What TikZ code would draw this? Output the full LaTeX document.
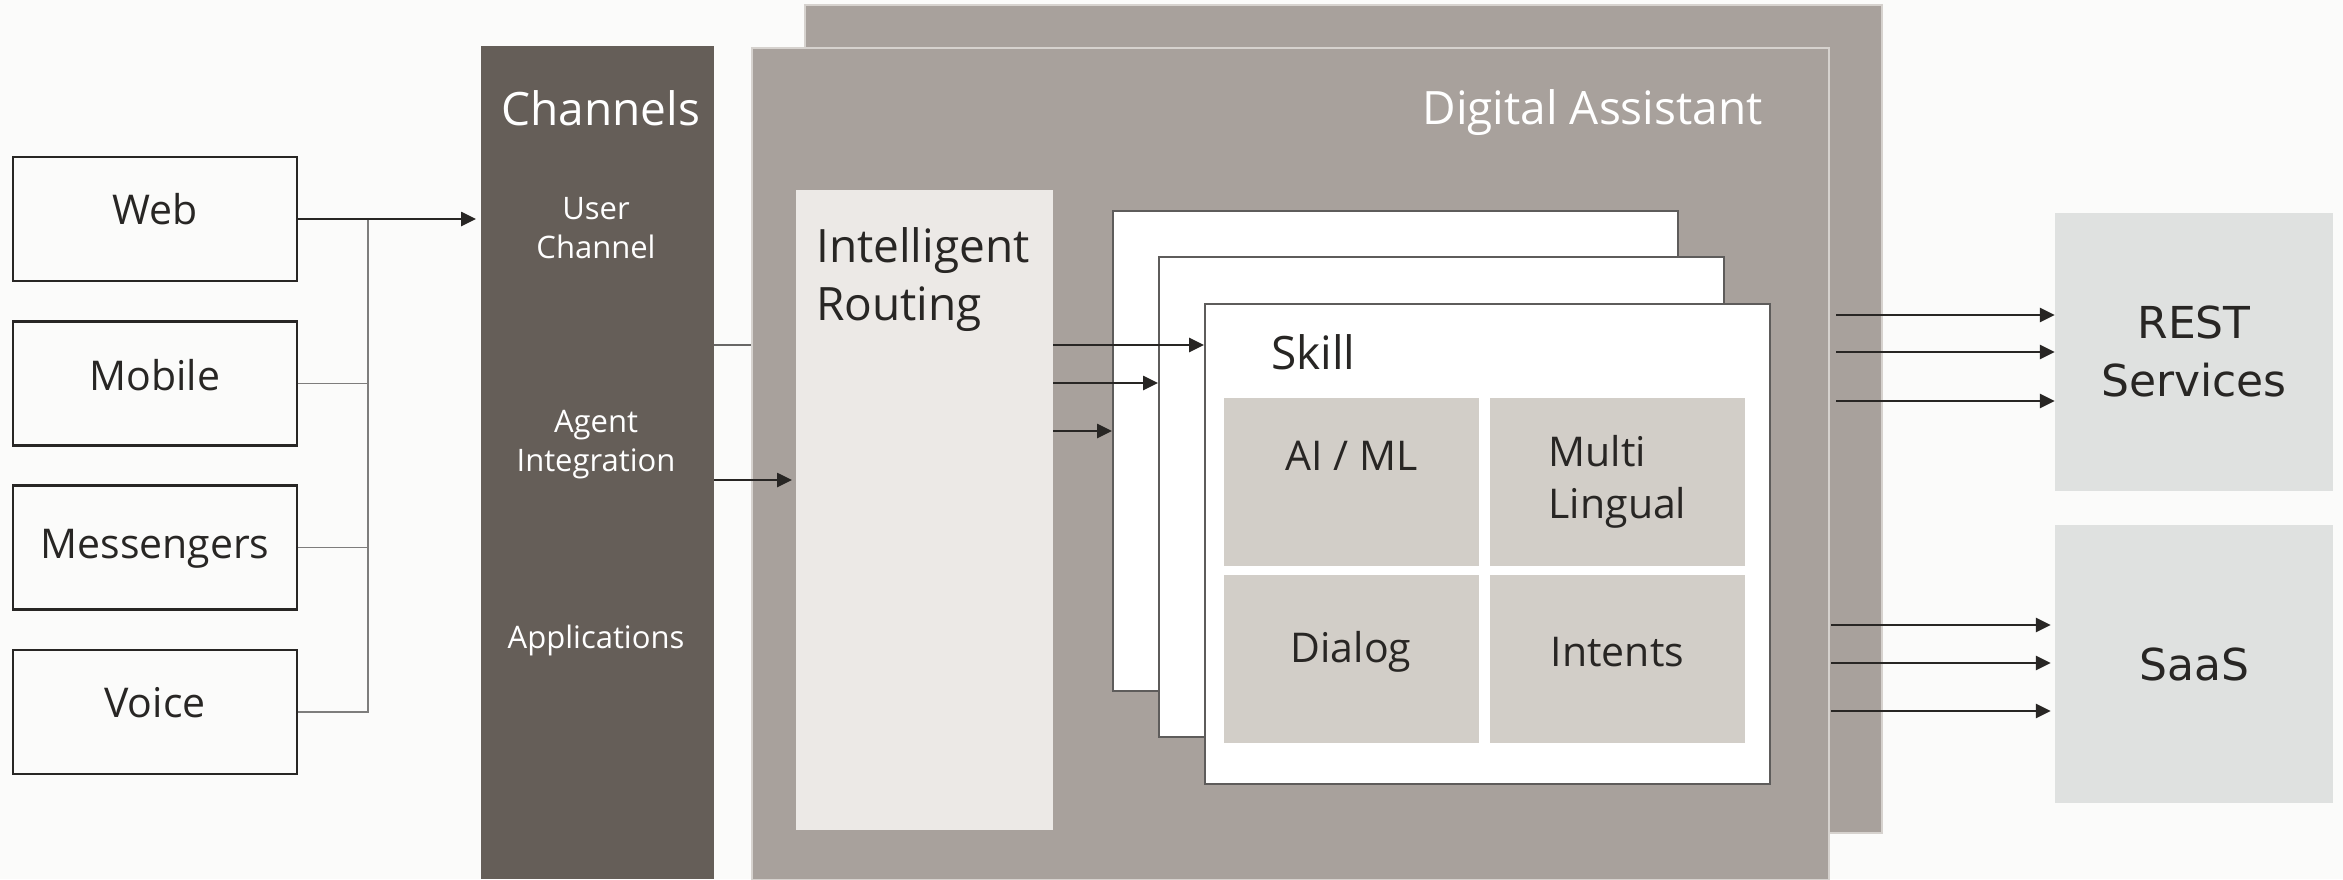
\documentclass[tikz,border=0pt]{standalone}
\usepackage{fontspec}
\setmainfont{Open Sans}
\newfontfamily\restfont{DejaVu Sans}
\usetikzlibrary{arrows.meta,positioning}
\definecolor{oabg}{RGB}{251,251,250}
\definecolor{oadark}{RGB}{101,94,88}
\definecolor{oagray}{RGB}{168,161,156}
\definecolor{oaedge}{RGB}{214,210,206}
\definecolor{oalight}{RGB}{236,233,230}
\definecolor{oatile}{RGB}{210,206,200}
\definecolor{oacloud}{RGB}{223,225,224}
\definecolor{oaink}{RGB}{40,38,36}

\begin{document}
\begin{tikzpicture}[
    x=1pt, y=-1pt,
    node distance=37.5pt,
    every node/.style={text=oaink, inner sep=0pt},
    src/.style={draw=oaink, line width=2.8pt, fill=oabg, minimum width=284pt, minimum height=124pt, text height=31pt, text depth=20pt, font=\fontsize{41}{48}\selectfont},
    panel/.style={draw=oaedge, line width=1.5pt, fill=oagray, anchor=north west},
    card/.style={draw=oaink!75, line width=1.5pt, fill=white, minimum width=565pt, minimum height=480pt, anchor=north west},
    tile/.style={fill=oatile, minimum width=255pt, minimum height=168pt, align=center, font=\fontsize{41}{52}\selectfont},
    cloud/.style={fill=oacloud, minimum width=278pt, minimum height=278pt, align=center, font=\restfont\fontsize{44}{58}\selectfont},
    chan/.style={text=white, align=center, font=\fontsize{31}{39}\selectfont},
    title/.style={text=white, font=\fontsize{46}{52}\selectfont},
    arrow/.style={-{Triangle[length=15pt,width=14pt]}, line width=2.6pt, draw=oaink},
    bus/.style={line width=1.5pt, draw=oaink!60}
  ]
    \fill[oabg] (0,0) rectangle (2343,879);
    \useasboundingbox (0,0) rectangle (2343,879);

    % sources
    \node[src] (web) at (155,219) {Web};
    \node[src, text depth=16pt, below=of web] (mobile) {Mobile};
    \node[src, text depth=10pt, below=of mobile] (messengers) {Messengers};
    \node[src, below=of messengers] (voice) {Voice};

    % channels column
    \node[fill=oadark, minimum width=233pt, minimum height=833pt, anchor=north west] (channels) at (481,46) {};
    \node[title] (chantitle) at (601,108) {Channels};
    \node[chan] (userch) at (596,228) {User\\Channel};
    \node[chan] (agent) at (596,445) {Agent\\Integration};
    \node[chan] (apps) at (596,640) {Applications};

    % digital assistant
    \node[panel, minimum width=1077pt, minimum height=828pt] (daback) at (804,4) {};
    \node[panel, minimum width=1077pt, minimum height=832pt] (dafront) at (751,47) {};
    \node[title, anchor=east] (datitle) at (1763,113) {Digital Assistant};

    \node[fill=oalight, minimum width=257pt, minimum height=640pt, anchor=north west] (routing) at (796,190) {};
    \node[anchor=north west, align=left, font=\fontsize{46}{58}\selectfont] (routingtxt) at (816,227) {Intelligent\\Routing};

    % skills
    \node[card] (card1) at (1112,210) {};
    \node[card] (card2) at (1158,256) {};
    \node[card] (card3) at (1204,303) {};
    \node[anchor=west, font=\fontsize{46}{52}\selectfont] (skill) at (1271,352) {Skill};
    \node[tile] (aiml) at (1351.5,482) {AI / ML\\\mbox{}};
    \node[tile, align=left] (multi) at (1617.5,482) {Multi\\Lingual};
    \node[tile, text depth=24pt] (dialog) at (1351,659) {Dialog};
    \node[tile, text depth=14pt] (intents) at (1617.5,659) {Intents};

    % backends
    \node[cloud] (rest) at (2194,351.5) {REST\\Services};
    \node[cloud] (saas) at (2194,664) {SaaS};

    % connectors
    \coordinate (bus) at (368,219);
    \draw[bus] (voice.east) -| (bus);
    \draw[bus] (mobile.east) -- (mobile.east -| bus);
    \draw[bus] (messengers.east) -- (messengers.east -| bus);
    \draw[arrow, shorten >=5pt] (web.east) -- (web.east -| channels.west);

    \coordinate (chanout) at (714,345);
    \draw[line width=1.3pt, draw=oaink!70] (chanout) -- (chanout -| dafront.west);
    \coordinate (agentout) at (714,480);
    \draw[arrow, shorten >=4pt] (agentout) -- (agentout -| routing.west);

    \foreach \yy/\cc [count=\i] in {345/card3, 383/card2, 431/card1} {
      \coordinate (rt\i) at (1053,\yy);
      \draw[arrow] (rt\i) -- (rt\i -| \cc.west);
    }
    \foreach \yy [count=\i] in {315,352,401} {
      \coordinate (ro\i) at (1836,\yy);
      \draw[arrow] (ro\i) -- (ro\i -| rest.west);
    }
    \foreach \yy [count=\i] in {625,663,711} {
      \coordinate (so\i) at (1831,\yy);
      \draw[arrow, shorten >=4pt] (so\i) -- (so\i -| saas.west);
    }
  \end{tikzpicture}
\end{document}
